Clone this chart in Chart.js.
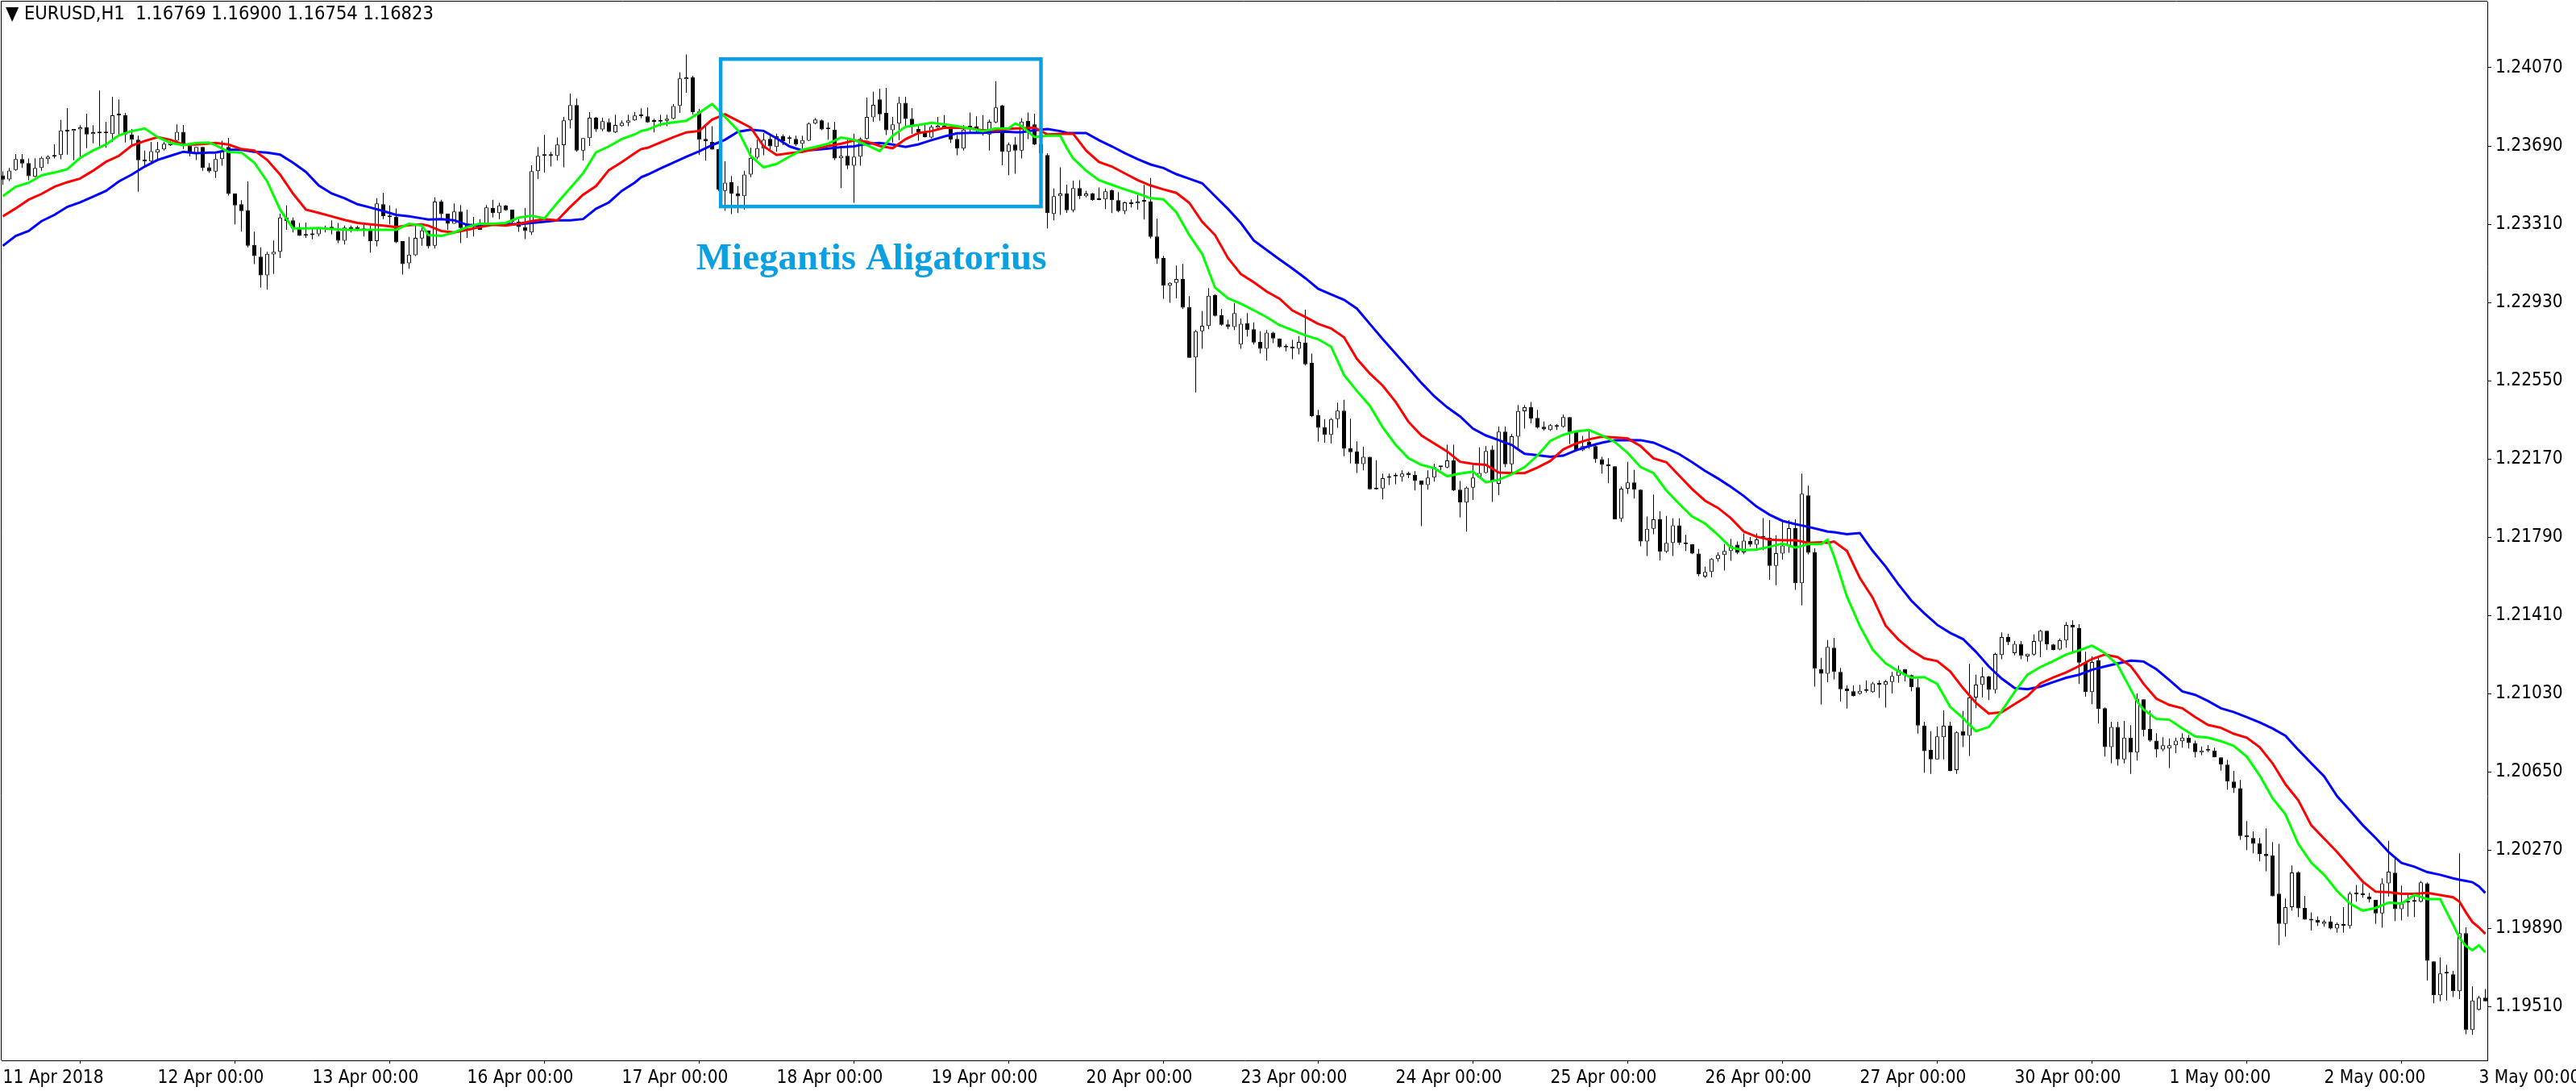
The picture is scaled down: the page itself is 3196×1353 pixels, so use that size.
<!DOCTYPE html>
<html><head><meta charset="utf-8">
<script src="https://cdn.jsdelivr.net/npm/chart.js@4.4.1/dist/chart.umd.min.js"></script>
<style>
html,body{margin:0;padding:0;background:#fff;}
#wrap{position:relative;width:3196px;height:1353px;overflow:hidden;}
#hdr{position:absolute;left:7px;top:3px;font:23.5px "DejaVu Sans Condensed","DejaVu Sans",sans-serif;color:#000;white-space:pre;line-height:27px;}
</style></head><body>
<div id="wrap"><canvas id="c" width="3196" height="1353"></canvas><div id="hdr">▼ EURUSD,H1  1.16769 1.16900 1.16754 1.16823</div></div>
<script>
// ---- candle data (one per H1 bar, index 0 = 11 Apr 2018 00:00) ----
const opens = [
1.23547,1.23528,1.23574,1.23626,1.23607,1.23540,1.23583,1.23626,1.23638,1.23646,
1.23765,1.23763,1.23770,1.23780,1.23748,1.23752,1.23752,1.23748,1.23839,1.23839,
1.23746,1.23720,1.23624,1.23615,1.23658,1.23673,1.23694,1.23716,1.23759,1.23692,
1.23655,1.23685,1.23586,1.23566,1.23626,1.23685,1.23459,1.23407,1.23377,1.23209,
1.23153,1.23061,1.23163,1.23176,1.23342,1.23329,1.23290,1.23254,1.23263,1.23261,
1.23287,1.23290,1.23277,1.23230,1.23296,1.23296,1.23290,1.23280,1.23228,1.23407,
1.23351,1.23346,1.23228,1.23120,1.23159,1.23241,1.23280,1.23205,1.23420,1.23361,
1.23312,1.23372,1.23312,1.23296,1.23296,1.23312,1.23388,1.23364,1.23401,1.23381,
1.23322,1.23296,1.23270,1.23568,1.23642,1.23642,1.23642,1.23694,1.23814,1.23889,
1.23668,1.23728,1.23827,1.23770,1.23806,1.23756,1.23787,1.23803,1.23814,1.23835,
1.23834,1.23809,1.23809,1.23812,1.23822,1.23885,1.24014,1.24023,1.23857,1.23724,
1.23711,1.23675,1.23472,1.23514,1.23459,1.23446,1.23551,1.23633,1.23677,1.23724,
1.23685,1.23737,1.23724,1.23724,1.23701,1.23716,1.23799,1.23814,1.23771,1.23769,
1.23630,1.23642,1.23594,1.23638,1.23724,1.23829,1.23916,1.23851,1.23766,1.23799,
1.23900,1.23822,1.23772,1.23753,1.23731,1.23778,1.23779,1.23776,1.23724,1.23677,
1.23788,1.23786,1.23772,1.23746,1.23805,1.23886,1.23662,1.23697,1.23668,1.23812,
1.23795,1.23698,1.23646,1.23360,1.23446,1.23459,1.23378,1.23485,1.23446,1.23459,
1.23429,1.23431,1.23475,1.23427,1.23374,1.23416,1.23411,1.23420,1.23420,1.23250,
1.23146,1.23012,1.23025,1.23044,1.22908,1.22663,1.22790,1.22816,1.22966,1.22868,
1.22824,1.22811,1.22726,1.22829,1.22800,1.22738,1.22705,1.22783,1.22755,1.22712,
1.22715,1.22705,1.22735,1.22637,1.22382,1.22324,1.22287,1.22363,1.22404,1.22222,
1.22206,1.22145,1.22180,1.22027,1.22027,1.22078,1.22085,1.22082,1.22102,1.22093,
1.22065,1.22043,1.22079,1.22130,1.22128,1.22164,1.22021,1.21958,1.22030,1.22079,
1.22102,1.22216,1.22049,1.22303,1.22144,1.22278,1.22402,1.22421,1.22369,1.22326,
1.22310,1.22334,1.22326,1.22373,1.22301,1.22212,1.22255,1.22232,1.22169,1.22143,
1.22134,1.21880,1.22026,1.22056,1.22021,1.21769,1.21831,1.21877,1.21719,1.21762,
1.21847,1.21762,1.21756,1.21710,1.21599,1.21621,1.21684,1.21703,1.21723,1.21753,
1.21716,1.21771,1.21753,1.21788,1.21788,1.21651,1.21710,1.21749,1.21834,1.21566,
1.21993,1.21716,1.21149,1.21127,1.21253,1.21136,1.21055,1.21042,1.21029,1.21044,
1.21038,1.21074,1.21073,1.21087,1.21116,1.21149,1.21120,1.21061,1.20875,1.20757,
1.20711,1.20818,1.20874,1.20659,1.20848,1.20825,1.21011,1.21073,1.21113,1.21048,
1.21218,1.21305,1.21227,1.21272,1.21211,1.21220,1.21283,1.21335,1.21269,1.21244,
1.21288,1.21364,1.21348,1.21181,1.21038,1.21191,1.20959,1.20770,1.20868,1.20711,
1.20816,1.20744,1.21002,1.20859,1.20802,1.20759,1.20763,1.20779,1.20799,1.20816,
1.20790,1.20744,1.20754,1.20754,1.20720,1.20685,1.20603,1.20571,1.20342,1.20329,
1.20303,1.20251,1.20244,1.20059,1.19912,1.19993,1.20161,1.19989,1.19935,1.19931,
1.19912,1.19922,1.19889,1.19911,1.19902,1.20056,1.20058,1.20045,1.20028,1.19963,
1.20108,1.20160,1.19983,1.20015,1.20019,1.20019,1.20108,1.19730,1.19565,1.19671,
1.19667,1.19585,1.19867,1.19397,1.19495,1.19553];
const highs = [
1.23567,1.23583,1.23651,1.23651,1.23629,1.23630,1.23639,1.23645,1.23698,1.23816,
1.23874,1.23772,1.23791,1.23847,1.23791,1.23959,1.23808,1.23929,1.23916,1.23851,
1.23772,1.23740,1.23668,1.23710,1.23710,1.23710,1.23714,1.23795,1.23792,1.23705,
1.23685,1.23685,1.23607,1.23652,1.23716,1.23729,1.23459,1.23427,1.23518,1.23274,
1.23198,1.23176,1.23231,1.23361,1.23401,1.23342,1.23316,1.23318,1.23290,1.23296,
1.23303,1.23329,1.23316,1.23303,1.23303,1.23303,1.23309,1.23303,1.23436,1.23463,
1.23401,1.23387,1.23228,1.23248,1.23303,1.23312,1.23280,1.23440,1.23429,1.23361,
1.23411,1.23403,1.23381,1.23345,1.23335,1.23403,1.23429,1.23414,1.23403,1.23381,
1.23335,1.23388,1.23596,1.23685,1.23744,1.23662,1.23731,1.23831,1.23945,1.23920,
1.23728,1.23855,1.23831,1.23827,1.23823,1.23842,1.23814,1.23842,1.23855,1.23873,
1.23877,1.23822,1.23842,1.23842,1.23894,1.24047,1.24135,1.24031,1.23870,1.23792,
1.23786,1.23675,1.23616,1.23544,1.23495,1.23570,1.23681,1.23720,1.23753,1.23744,
1.23750,1.23746,1.23740,1.23740,1.23740,1.23805,1.23825,1.23818,1.23805,1.23808,
1.23681,1.23727,1.23750,1.23731,1.23925,1.23953,1.23968,1.23972,1.23831,1.23929,
1.23929,1.23874,1.23788,1.23796,1.23792,1.23831,1.23840,1.23788,1.23744,1.23792,
1.23853,1.23834,1.23840,1.23818,1.24004,1.23890,1.23707,1.23733,1.23825,1.23853,
1.23847,1.23720,1.23655,1.23483,1.23586,1.23502,1.23522,1.23524,1.23472,1.23462,
1.23488,1.23483,1.23479,1.23466,1.23420,1.23431,1.23453,1.23501,1.23534,1.23338,
1.23156,1.23028,1.23109,1.23117,1.22961,1.22796,1.22888,1.23000,1.22970,1.22898,
1.22846,1.22927,1.22852,1.22878,1.22833,1.22790,1.22796,1.22787,1.22755,1.22728,
1.22748,1.22767,1.22895,1.22682,1.22408,1.22363,1.22369,1.22444,1.22457,1.22365,
1.22256,1.22229,1.22180,1.22164,1.22099,1.22099,1.22102,1.22115,1.22108,1.22111,
1.22065,1.22115,1.22147,1.22135,1.22239,1.22239,1.22063,1.22036,1.22141,1.22226,
1.22232,1.22235,1.22327,1.22327,1.22291,1.22432,1.22432,1.22447,1.22408,1.22352,
1.22339,1.22339,1.22386,1.22373,1.22304,1.22282,1.22304,1.22238,1.22180,1.22173,
1.22134,1.22036,1.22156,1.22117,1.22023,1.21890,1.21997,1.21916,1.21893,1.21882,
1.21882,1.21801,1.21756,1.21733,1.21647,1.21688,1.21716,1.21756,1.21782,1.21769,
1.21808,1.21791,1.21808,1.21883,1.21873,1.21799,1.21864,1.21873,1.21877,1.22099,
1.22040,1.21736,1.21204,1.21290,1.21301,1.21155,1.21070,1.21070,1.21073,1.21094,
1.21087,1.21094,1.21096,1.21136,1.21166,1.21149,1.21123,1.21103,1.20894,1.20848,
1.20870,1.20949,1.20894,1.20848,1.20946,1.21175,1.21122,1.21158,1.21116,1.21229,
1.21327,1.21321,1.21285,1.21285,1.21224,1.21318,1.21340,1.21335,1.21272,1.21298,
1.21377,1.21386,1.21368,1.21233,1.21211,1.21211,1.20963,1.20894,1.20894,1.20898,
1.20877,1.21031,1.21002,1.20949,1.20838,1.20818,1.20812,1.20816,1.20838,1.20829,
1.20802,1.20773,1.20780,1.20767,1.20720,1.20709,1.20655,1.20611,1.20411,1.20361,
1.20329,1.20376,1.20309,1.20300,1.20035,1.20196,1.20167,1.20048,1.19967,1.19948,
1.19932,1.19950,1.19919,1.19993,1.20068,1.20101,1.20108,1.20062,1.20028,1.20133,
1.20315,1.20235,1.20098,1.20052,1.20058,1.20120,1.20113,1.19730,1.19749,1.19713,
1.19684,1.20254,1.19895,1.19608,1.19562,1.19595];
const lows = [
1.23501,1.23520,1.23570,1.23583,1.23524,1.23538,1.23570,1.23603,1.23629,1.23625,
1.23648,1.23621,1.23632,1.23679,1.23703,1.23679,1.23681,1.23710,1.23744,1.23707,
1.23692,1.23468,1.23596,1.23612,1.23622,1.23668,1.23690,1.23701,1.23675,1.23639,
1.23622,1.23570,1.23560,1.23534,1.23594,1.23449,1.23309,1.23274,1.23198,1.23116,
1.23002,1.22992,1.23068,1.23146,1.23283,1.23270,1.23253,1.23244,1.23237,1.23250,
1.23270,1.23261,1.23218,1.23211,1.23270,1.23277,1.23250,1.23172,1.23202,1.23335,
1.23309,1.23218,1.23065,1.23094,1.23155,1.23205,1.23192,1.23192,1.23335,1.23283,
1.23312,1.23218,1.23244,1.23250,1.23283,1.23312,1.23342,1.23335,1.23375,1.23312,
1.23273,1.23238,1.23257,1.23529,1.23561,1.23590,1.23620,1.23586,1.23775,1.23662,
1.23620,1.23690,1.23759,1.23762,1.23756,1.23753,1.23784,1.23786,1.23812,1.23825,
1.23803,1.23756,1.23786,1.23786,1.23818,1.23851,1.23949,1.23842,1.23646,1.23619,
1.23672,1.23472,1.23375,1.23359,1.23364,1.23381,1.23538,1.23625,1.23645,1.23668,
1.23662,1.23694,1.23701,1.23690,1.23655,1.23714,1.23795,1.23766,1.23720,1.23622,
1.23485,1.23577,1.23414,1.23594,1.23720,1.23808,1.23812,1.23743,1.23707,1.23718,
1.23783,1.23749,1.23716,1.23731,1.23727,1.23772,1.23772,1.23705,1.23645,1.23668,
1.23749,1.23753,1.23740,1.23668,1.23801,1.23596,1.23548,1.23555,1.23629,1.23723,
1.23694,1.23645,1.23290,1.23329,1.23355,1.23365,1.23368,1.23433,1.23440,1.23424,
1.23427,1.23384,1.23364,1.23368,1.23359,1.23391,1.23381,1.23333,1.23241,1.23117,
1.22948,1.22928,1.22950,1.22898,1.22661,1.22493,1.22705,1.22800,1.22862,1.22817,
1.22800,1.22796,1.22705,1.22765,1.22726,1.22683,1.22647,1.22732,1.22709,1.22692,
1.22654,1.22678,1.22624,1.22373,1.22254,1.22249,1.22245,1.22321,1.22183,1.22148,
1.22102,1.22115,1.22021,1.22021,1.21974,1.22043,1.22047,1.22060,1.22076,1.22017,
1.21843,1.22021,1.22060,1.22115,1.22124,1.22014,1.21886,1.21817,1.21971,1.22076,
1.22099,1.21961,1.21994,1.22130,1.22101,1.22222,1.22317,1.22343,1.22317,1.22308,
1.22306,1.22310,1.22321,1.22242,1.22206,1.22208,1.22219,1.22151,1.22099,1.22052,
1.21877,1.21864,1.22000,1.21978,1.21746,1.21699,1.21804,1.21677,1.21713,1.21699,
1.21752,1.21723,1.21707,1.21600,1.21592,1.21595,1.21671,1.21628,1.21675,1.21707,
1.21707,1.21743,1.21733,1.21727,1.21583,1.21557,1.21681,1.21714,1.21534,1.21459,
1.21706,1.21064,1.20977,1.21086,1.21099,1.20992,1.20957,1.21016,1.21025,1.21035,
1.21034,1.21009,1.20962,1.21031,1.21083,1.21090,1.21042,1.20836,1.20646,1.20640,
1.20711,1.20711,1.20653,1.20640,1.20770,1.20727,1.20959,1.21011,1.20998,1.21031,
1.21197,1.21266,1.21216,1.21197,1.21185,1.21214,1.21207,1.21242,1.21240,1.21240,
1.21253,1.21227,1.21077,1.21015,1.20979,1.20885,1.20724,1.20692,1.20680,1.20691,
1.20640,1.20705,1.20822,1.20796,1.20720,1.20750,1.20669,1.20741,1.20767,1.20763,
1.20720,1.20731,1.20746,1.20720,1.20656,1.20564,1.20548,1.20320,1.20270,1.20254,
1.20215,1.20167,1.20046,1.19808,1.19850,1.19976,1.19945,1.19932,1.19879,1.19902,
1.19898,1.19885,1.19869,1.19869,1.19889,1.20019,1.20039,1.20015,1.19912,1.19893,
1.20045,1.19925,1.19928,1.19947,1.19945,1.20015,1.19637,1.19526,1.19536,1.19540,
1.19556,1.19546,1.19376,1.19373,1.19491,1.19536];
const closes = [
1.23527,1.23571,1.23626,1.23605,1.23543,1.23583,1.23632,1.23638,1.23646,1.23765,
1.23761,1.23772,1.23780,1.23746,1.23757,1.23754,1.23753,1.23839,1.23840,1.23746,
1.23720,1.23621,1.23615,1.23665,1.23673,1.23701,1.23705,1.23759,1.23701,1.23655,
1.23685,1.23583,1.23567,1.23626,1.23662,1.23457,1.23401,1.23374,1.23205,1.23155,
1.23061,1.23166,1.23176,1.23342,1.23326,1.23290,1.23253,1.23255,1.23257,1.23290,
1.23290,1.23291,1.23230,1.23294,1.23283,1.23287,1.23280,1.23228,1.23411,1.23348,
1.23344,1.23222,1.23116,1.23162,1.23244,1.23280,1.23202,1.23420,1.23359,1.23312,
1.23372,1.23292,1.23296,1.23297,1.23283,1.23391,1.23364,1.23401,1.23378,1.23322,
1.23296,1.23277,1.23568,1.23642,1.23643,1.23643,1.23697,1.23814,1.23889,1.23668,
1.23728,1.23827,1.23770,1.23810,1.23759,1.23792,1.23803,1.23814,1.23838,1.23836,
1.23805,1.23808,1.23810,1.23822,1.23884,1.24018,1.24023,1.23855,1.23720,1.23714,
1.23672,1.23479,1.23512,1.23459,1.23445,1.23551,1.23632,1.23679,1.23720,1.23688,
1.23737,1.23714,1.23725,1.23698,1.23718,1.23799,1.23818,1.23770,1.23772,1.23629,
1.23642,1.23594,1.23638,1.23724,1.23831,1.23890,1.23844,1.23766,1.23795,1.23900,
1.23821,1.23783,1.23757,1.23733,1.23783,1.23788,1.23788,1.23720,1.23677,1.23769,
1.23772,1.23766,1.23749,1.23808,1.23877,1.23662,1.23697,1.23668,1.23809,1.23766,
1.23698,1.23655,1.23364,1.23446,1.23459,1.23378,1.23485,1.23446,1.23459,1.23427,
1.23428,1.23470,1.23427,1.23374,1.23416,1.23407,1.23420,1.23421,1.23248,1.23143,
1.23012,1.23025,1.23044,1.22905,1.22661,1.22790,1.22817,1.22963,1.22865,1.22822,
1.22811,1.22878,1.22826,1.22796,1.22735,1.22705,1.22783,1.22755,1.22713,1.22713,
1.22706,1.22738,1.22630,1.22378,1.22321,1.22287,1.22363,1.22404,1.22219,1.22203,
1.22145,1.22180,1.22023,1.22023,1.22076,1.22079,1.22086,1.22099,1.22091,1.22063,
1.22043,1.22079,1.22130,1.22131,1.22163,1.22017,1.21958,1.22030,1.22079,1.22102,
1.22209,1.22063,1.22303,1.22144,1.22280,1.22403,1.22421,1.22366,1.22323,1.22313,
1.22334,1.22326,1.22373,1.22301,1.22212,1.22232,1.22235,1.22169,1.22141,1.22134,
1.21877,1.22026,1.22056,1.22021,1.21769,1.21831,1.21877,1.21719,1.21762,1.21847,
1.21762,1.21756,1.21710,1.21610,1.21621,1.21684,1.21703,1.21723,1.21749,1.21714,
1.21773,1.21753,1.21779,1.21789,1.21651,1.21712,1.21749,1.21834,1.21566,1.22001,
1.21714,1.21151,1.21127,1.21257,1.21136,1.21051,1.21042,1.21018,1.21044,1.21045,
1.21080,1.21075,1.21090,1.21116,1.21146,1.21120,1.21061,1.20875,1.20751,1.20711,
1.20822,1.20874,1.20655,1.20842,1.20825,1.21011,1.21074,1.21113,1.21048,1.21223,
1.21305,1.21279,1.21272,1.21214,1.21224,1.21285,1.21335,1.21269,1.21242,1.21289,
1.21364,1.21351,1.21181,1.21038,1.21184,1.20955,1.20770,1.20868,1.20711,1.20816,
1.20744,1.21005,1.20855,1.20802,1.20759,1.20779,1.20779,1.20802,1.20816,1.20790,
1.20746,1.20754,1.20755,1.20720,1.20685,1.20603,1.20571,1.20339,1.20333,1.20300,
1.20251,1.20241,1.20046,1.19912,1.19993,1.20161,1.19987,1.19932,1.19928,1.19918,
1.19922,1.19889,1.19911,1.19902,1.20059,1.20057,1.20052,1.20030,1.19963,1.20108,
1.20165,1.19983,1.20017,1.20023,1.20020,1.20113,1.19732,1.19565,1.19671,1.19672,
1.19585,1.19867,1.19397,1.19540,1.19553,1.19536];

// ---- Alligator lines at these bar indices ----
const lineIdx = [
0,2,4,6,8,10,12,14,16,18,20,22,24,26,28,30,32,33,
35,37,39,41,43,45,47,49,51,53,55,57,59,61,63,65,66,
68,70,72,74,76,78,80,82,84,86,88,90,92,94,96,98,99,
100,102,104,106,108,110,112,114,116,118,120,122,124,126,128,130,132,
134,136,138,140,142,144,146,148,150,152,154,156,157,158,160,162,164,165,
166,168,170,172,174,176,178,180,182,184,186,188,190,192,194,196,198,
200,202,204,206,208,210,212,214,216,218,220,222,224,226,228,230,232,
234,236,238,240,242,244,246,248,250,252,254,256,258,260,262,
264,266,268,270,272,274,276,278,280,282,283,284,286,288,290,292,294,296,298,
300,302,304,306,308,310,312,314,316,318,320,322,324,326,328,330,331,
332,334,336,338,340,342,344,346,348,350,352,354,356,358,360,362,
364,366,368,370,372,374,376,378,380,381,382,383,384,385];
const lips = [
1.23446,1.23492,1.23511,1.23547,1.23561,1.23577,1.23632,1.23668,1.23697,1.23742,1.23762,1.23775,1.23733,1.23705,1.23694,1.23705,1.23707,1.23694,
1.23661,1.23658,1.23609,1.23518,1.23381,1.23290,1.23290,1.23292,1.23287,1.23283,1.23283,1.23283,1.23283,1.23283,1.23312,1.23303,1.23257,
1.23253,1.23270,1.23296,1.23313,1.23312,1.23316,1.23342,1.23351,1.23338,1.23414,1.23485,1.23557,1.23659,1.23688,1.23724,1.23746,1.23763,
1.23769,1.23795,1.23805,1.23812,1.23851,1.23894,1.23831,1.23766,1.23642,1.23586,1.23603,1.23638,1.23672,1.23685,1.23701,1.23731,1.23720,
1.23694,1.23665,1.23740,1.23783,1.23792,1.23803,1.23795,1.23786,1.23775,1.23762,1.23775,1.23775,1.23799,1.23786,1.23733,1.23740,1.23740,1.23680,
1.23629,1.23570,1.23524,1.23501,1.23479,1.23459,1.23436,1.23431,1.23368,1.23257,1.23166,1.23002,1.22950,1.22924,1.22892,1.22859,1.22820,
1.22796,1.22770,1.22751,1.22715,1.22578,1.22500,1.22428,1.22324,1.22239,1.22173,1.22141,1.22125,1.22086,1.22099,1.22108,1.22056,1.22069,
1.22095,1.22130,1.22186,1.22258,1.22287,1.22304,1.22310,1.22284,1.22252,1.22199,1.22130,1.22101,1.22017,1.21951,1.21890,
1.21856,1.21801,1.21739,1.21727,1.21730,1.21743,1.21759,1.21739,1.21756,1.21756,1.21778,1.21697,1.21501,1.21358,1.21243,1.21177,1.21138,1.21107,1.21110,
1.21077,1.20966,1.20911,1.20848,1.20868,1.20946,1.21038,1.21122,1.21159,1.21188,1.21220,1.21240,1.21263,1.21227,1.21168,1.21051,1.20992,
1.20953,1.20907,1.20903,1.20861,1.20822,1.20816,1.20799,1.20776,1.20724,1.20633,1.20522,1.20444,1.20300,1.20209,1.20150,1.20072,
1.20010,1.19976,1.19989,1.20015,1.20010,1.20052,1.20032,1.20032,1.19908,1.19843,1.19804,1.19784,1.19808,1.19774];
const teeth = [
1.23348,1.23387,1.23429,1.23457,1.23492,1.23514,1.23532,1.23570,1.23613,1.23642,1.23692,1.23714,1.23733,1.23720,1.23697,1.23697,1.23702,1.23705,
1.23697,1.23675,1.23668,1.23622,1.23551,1.23459,1.23381,1.23365,1.23348,1.23331,1.23316,1.23309,1.23303,1.23296,1.23305,1.23309,1.23303,
1.23277,1.23270,1.23283,1.23296,1.23307,1.23303,1.23312,1.23325,1.23335,1.23329,1.23394,1.23453,1.23495,1.23573,1.23612,1.23655,1.23675,
1.23681,1.23707,1.23733,1.23756,1.23763,1.23818,1.23844,1.23812,1.23779,1.23688,1.23646,1.23655,1.23662,1.23675,1.23690,1.23701,1.23716,
1.23711,1.23690,1.23679,1.23723,1.23753,1.23762,1.23778,1.23778,1.23776,1.23766,1.23766,1.23772,1.23775,1.23775,1.23779,1.23746,1.23749,1.23749,
1.23749,1.23668,1.23612,1.23590,1.23557,1.23524,1.23498,1.23479,1.23462,1.23414,1.23322,1.23257,1.23146,1.23068,1.23028,1.22983,1.22948,
1.22891,1.22859,1.22826,1.22804,1.22761,1.22656,1.22585,1.22526,1.22447,1.22350,1.22284,1.22245,1.22206,1.22156,1.22146,1.22141,1.22104,
1.22101,1.22101,1.22128,1.22160,1.22216,1.22245,1.22265,1.22278,1.22274,1.22269,1.22232,1.22173,1.22154,1.22088,1.22023,
1.21967,1.21932,1.21882,1.21817,1.21792,1.21778,1.21775,1.21775,1.21762,1.21765,1.21762,1.21769,1.21723,1.21592,1.21495,1.21360,1.21292,1.21240,1.21201,
1.21188,1.21138,1.21057,1.20985,1.20933,1.20940,1.20979,1.21018,1.21080,1.21109,1.21133,1.21164,1.21198,1.21220,1.21207,1.21164,1.21122,
1.21077,1.21005,1.20975,1.20959,1.20916,1.20878,1.20864,1.20835,1.20816,1.20770,1.20692,1.20590,1.20512,1.20391,1.20326,1.20261,
1.20189,1.20117,1.20068,1.20065,1.20058,1.20058,1.20062,1.20052,1.20041,1.20019,1.19967,1.19921,1.19895,1.19863];
const jaw = [
1.23205,1.23253,1.23277,1.23325,1.23355,1.23394,1.23416,1.23444,1.23472,1.23518,1.23551,1.23590,1.23622,1.23642,1.23662,1.23655,1.23658,1.23658,
1.23671,1.23671,1.23662,1.23658,1.23648,1.23609,1.23564,1.23498,1.23459,1.23436,1.23407,1.23391,1.23374,1.23355,1.23348,1.23338,1.23333,
1.23335,1.23329,1.23307,1.23303,1.23309,1.23312,1.23309,1.23316,1.23322,1.23329,1.23329,1.23335,1.23385,1.23416,1.23472,1.23512,1.23538,
1.23551,1.23581,1.23609,1.23638,1.23664,1.23694,1.23720,1.23759,1.23769,1.23763,1.23727,1.23688,1.23668,1.23671,1.23677,1.23684,1.23688,
1.23701,1.23705,1.23697,1.23685,1.23698,1.23718,1.23736,1.23752,1.23754,1.23754,1.23759,1.23759,1.23757,1.23757,1.23766,1.23772,1.23762,1.23754,
1.23753,1.23753,1.23718,1.23688,1.23655,1.23626,1.23600,1.23583,1.23553,1.23531,1.23509,1.23446,1.23384,1.23316,1.23231,1.23185,1.23139,
1.23095,1.23048,1.22996,1.22969,1.22943,1.22900,1.22826,1.22752,1.22682,1.22611,1.22539,1.22474,1.22421,1.22376,1.22317,1.22284,1.22261,
1.22238,1.22195,1.22188,1.22180,1.22186,1.22212,1.22232,1.22249,1.22261,1.22262,1.22261,1.22249,1.22222,1.22193,1.22154,
1.22112,1.22075,1.22034,1.21990,1.21938,1.21899,1.21869,1.21853,1.21840,1.21825,1.21817,1.21814,1.21804,1.21810,1.21723,1.21647,1.21560,1.21481,1.21420,
1.21364,1.21325,1.21295,1.21233,1.21162,1.21103,1.21057,1.21051,1.21064,1.21086,1.21107,1.21122,1.21146,1.21162,1.21177,1.21190,1.21188,
1.21186,1.21148,1.21096,1.21041,1.21024,1.20994,1.20959,1.20940,1.20916,1.20890,1.20861,1.20825,1.20757,1.20692,1.20629,1.20532,
1.20463,1.20391,1.20329,1.20261,1.20208,1.20189,1.20163,1.20150,1.20133,1.20126,1.20120,1.20114,1.20094,1.20062];

// ---- axis ticks ----
const dayTickIdx = [0,24,48,72,96,120,144,168,192,216,240,264,288,312,336,360,384];
const dayLabels = ["11 Apr 2018","12 Apr 00:00","13 Apr 00:00","16 Apr 00:00","17 Apr 00:00","18 Apr 00:00",
  "19 Apr 00:00","20 Apr 00:00","23 Apr 00:00","24 Apr 00:00","25 Apr 00:00","26 Apr 00:00","27 Apr 00:00",
  "30 Apr 00:00","1 May 00:00","2 May 00:00","3 May 00:00"];
const priceTicks = [1.24070,1.23690,1.23310,1.22930,1.22550,1.22170,1.21790,1.21410,1.21030,1.20650,1.20270,1.19890,1.19510];

// ---- annotation ----
const noteText = "Miegantis Aligatorius";
const noteBoxX = [111.33, 161.0];
const noteBoxY = [1.24112, 1.23396];
const noteTextAt = [134.7, 1.23138];

// ---- view ----
const xRange = [-0.1875, 385.3125];
const yRange = [1.192488, 1.243911];
const NOTE_COLOR = '#0aa0e2';
const AXIS_FONT = {family: '"DejaVu Sans Condensed","DejaVu Sans",sans-serif', size: 22.5};

const idx = opens.map((_, i) => i);
const wickData = idx.map(i => ({x: i, y: [lows[i], highs[i]]}));
const bodyData = idx.map(i => ({x: i, y: [opens[i], closes[i]]}));
const bodyFill = idx.map(i => closes[i] >= opens[i] ? '#ffffff' : '#000000');
const pts = arr => lineIdx.map((k, j) => ({x: k, y: arr[j]}));

const framePlugin = {
  id: 'frameNote',
  afterDatasetsDraw(chart) {
    const {ctx, chartArea: a, scales: {x, y}} = chart;
    ctx.save();
    ctx.strokeStyle = '#000'; ctx.lineWidth = 1;
    ctx.beginPath();
    ctx.moveTo(Math.floor(a.left) - 0.5, a.bottom);
    ctx.lineTo(Math.floor(a.left) - 0.5, Math.floor(a.top) - 0.5);
    ctx.lineTo(a.right, Math.floor(a.top) - 0.5);
    ctx.stroke();
    const x1 = x.getPixelForValue(noteBoxX[0]), x2 = x.getPixelForValue(noteBoxX[1]);
    const y1 = y.getPixelForValue(noteBoxY[0]), y2 = y.getPixelForValue(noteBoxY[1]);
    ctx.strokeStyle = NOTE_COLOR; ctx.lineWidth = 4.5;
    ctx.strokeRect(x1, y1, x2 - x1, y2 - y1);
    ctx.fillStyle = NOTE_COLOR;
    ctx.font = 'bold 47px "Liberation Serif","DejaVu Serif",serif';
    ctx.textAlign = 'center'; ctx.textBaseline = 'middle';
    ctx.fillText(noteText, x.getPixelForValue(noteTextAt[0]), y.getPixelForValue(noteTextAt[1]));
    ctx.restore();
  }
};

new Chart(document.getElementById('c'), {
  type: 'bar',
  data: {
    datasets: [
      {type: 'line', label: 'Lips', data: pts(lips), borderColor: '#00ff00', borderWidth: 3, pointRadius: 0, tension: 0, order: 0},
      {type: 'line', label: 'Teeth', data: pts(teeth), borderColor: '#ff0000', borderWidth: 3, pointRadius: 0, tension: 0, order: 0},
      {type: 'line', label: 'Jaw', data: pts(jaw), borderColor: '#0000ff', borderWidth: 3, pointRadius: 0, tension: 0, order: 0},
      {label: 'Body', data: bodyData, backgroundColor: bodyFill, borderColor: '#000', borderWidth: 1, borderSkipped: false,
        barThickness: 5, minBarLength: 2, grouped: false, inflateAmount: 0, order: 1},
      {label: 'Wick', data: wickData, backgroundColor: '#000', borderWidth: 0, barThickness: 1, grouped: false, inflateAmount: 0, order: 2}
    ]
  },
  options: {
    responsive: false, maintainAspectRatio: false, devicePixelRatio: 1, animation: false,
    layout: {padding: {left: 2, top: 2, right: 0, bottom: 0}},
    plugins: {legend: {display: false}, tooltip: {enabled: false}},
    scales: {
      x: {
        type: 'linear', position: 'bottom', min: xRange[0], max: xRange[1], offset: false,
        afterBuildTicks: s => { s.ticks = dayTickIdx.map(v => ({value: v})); },
        afterFit: s => { s.height = 38; s.paddingLeft = 0; s.paddingRight = 0; },
        ticks: {autoSkip: false, maxRotation: 0, minRotation: 0, align: 'start', padding: 5, color: '#000', font: AXIS_FONT,
          callback: (v, i) => dayLabels[i]},
        grid: {drawOnChartArea: false, drawTicks: true, tickLength: 4, color: '#000', tickColor: '#000'},
        border: {display: true, color: '#000', width: 1}
      },
      y: {
        type: 'linear', position: 'right', min: yRange[0], max: yRange[1],
        afterBuildTicks: s => { s.ticks = priceTicks.map(v => ({value: v})); },
        afterFit: s => { s.width = 110; s.paddingTop = 0; s.paddingBottom = 0; },
        ticks: {autoSkip: false, padding: 5, color: '#000', font: AXIS_FONT, callback: v => v.toFixed(5)},
        grid: {drawOnChartArea: false, drawTicks: true, tickLength: 5, color: '#000', tickColor: '#000'},
        border: {display: true, color: '#000', width: 1}
      }
    }
  },
  plugins: [framePlugin]
});
</script>
</body></html>
